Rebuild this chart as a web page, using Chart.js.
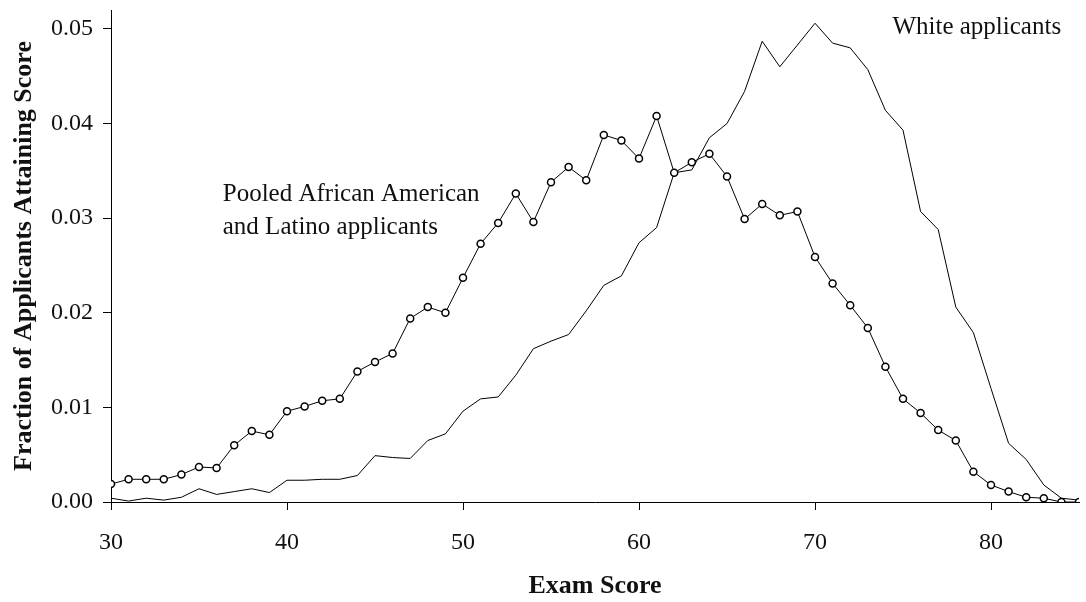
<!DOCTYPE html>
<html>
<head>
<meta charset="utf-8">
<script src="https://cdn.jsdelivr.net/npm/chart.js@4"></script>
<style>
  html, body { margin: 0; padding: 0; background: #fff; }
  #wrap { width: 1086px; height: 602px; }
</style>
</head>
<body>
<div id="wrap"><canvas id="grafico"></canvas></div>
<script>
// exam scores 30..85
const scores = [30,31,32,33,34,35,36,37,38,39,40,41,42,43,44,45,46,47,48,49,50,51,52,53,54,55,56,57,
  58,59,60,61,62,63,64,65,66,67,68,69,70,71,72,73,74,75,76,77,78,79,80,81,82,83,84,85];

const pooled = [0.0019,0.0024,0.0024,0.0024,0.0029,0.0037,0.0036,0.0060,0.0075,0.0071,
  0.0096,0.0101,0.0107,0.0109,0.0138,0.0148,0.0157,0.0194,0.0206,0.0200,
  0.0237,0.0273,0.0295,0.0326,0.0296,0.0338,0.0354,0.0340,0.0388,0.0382,
  0.0363,0.0408,0.0348,0.0359,0.0368,0.0344,0.0299,0.0315,0.0303,0.0307,
  0.0259,0.0231,0.0208,0.0184,0.0143,0.0109,0.0094,0.0076,0.0065,0.0032,
  0.0018,0.0011,0.0005,0.0004,0.0000,0.0000];

const white = [0.0004,0.0001,0.0004,0.0002,0.0005,0.0014,0.0008,0.0011,0.0014,0.0010,
  0.0023,0.0023,0.0024,0.0024,0.0028,0.0049,0.0047,0.0046,0.0065,0.0072,
  0.0096,0.0109,0.0111,0.0134,0.0162,0.0170,0.0177,0.0202,0.0229,0.0239,
  0.0274,0.0290,0.0348,0.0351,0.0385,0.0400,0.0434,0.0487,0.0460,0.0483,
  0.0506,0.0485,0.0480,0.0457,0.0414,0.0393,0.0307,0.0288,0.0206,0.0179,
  0.0120,0.0062,0.0045,0.0018,0.0004,0.0002];

const xTicks = [30,40,50,60,70,80];
const yTicks = [0,0.01,0.02,0.03,0.04,0.05];

// text labels placed in data units
const etiquetas = [
  { text: "White applicants", x: 74.4, y: 0.0495 },
  { text: "Pooled African American", x: 36.35, y: 0.0318 },
  { text: "and Latino applicants", x: 36.35, y: 0.0283 }
];

const serif = "'Liberation Serif', 'Times New Roman', serif";

const pontos = (vals) => scores.map((s, i) => ({ x: s, y: vals[i] }));

const textoPlugin = {
  id: "textos",
  afterDatasetsDraw(chart) {
    const { ctx, scales } = chart;
    ctx.save();
    ctx.fillStyle = "#111";
    ctx.font = "25px " + serif;
    ctx.textAlign = "left";
    ctx.textBaseline = "alphabetic";
    etiquetas.forEach(e => {
      ctx.fillText(e.text, scales.x.getPixelForValue(e.x), scales.y.getPixelForValue(e.y));
    });
    ctx.restore();
  }
};

new Chart(document.getElementById("grafico"), {
  type: "line",
  data: {
    datasets: [
      {
        label: "Pooled African American and Latino applicants",
        data: pontos(pooled),
        borderColor: "#000",
        borderWidth: 1,
        pointRadius: 3.5,
        pointBorderWidth: 1.5,
        pointBackgroundColor: "#fff",
        pointBorderColor: "#000",
        tension: 0
      },
      {
        label: "White applicants",
        data: pontos(white),
        borderColor: "#000",
        borderWidth: 1,
        pointRadius: 0,
        tension: 0
      }
    ]
  },
  options: {
    responsive: true,
    maintainAspectRatio: false,
    animation: false,
    layout: { padding: { top: 0, right: 7, left: 0, bottom: 0 } },
    plugins: { legend: { display: false }, tooltip: { enabled: false } },
    scales: {
      x: {
        type: "linear",
        min: 30,
        max: 85,
        afterFit(scale) { scale.height = 100; },
        afterBuildTicks(scale) { scale.ticks = xTicks.map(v => ({ value: v })); },
        border: { display: true, color: "#000", width: 1 },
        grid: { drawOnChartArea: false, drawTicks: true, tickLength: 8, color: "#000" },
        ticks: { color: "#111", padding: 18, font: { family: serif, size: 24 } },
        title: {
          display: true,
          text: "Exam Score",
          color: "#111",
          padding: { top: 0, bottom: 0 },
          font: { family: serif, size: 26, weight: "bold" }
        }
      },
      y: {
        min: 0,
        max: 0.052,
        afterFit(scale) {
          scale.width = 111;
          scale.paddingTop = 10;
          scale.paddingBottom = 0;
        },
        afterBuildTicks(scale) { scale.ticks = yTicks.map(v => ({ value: v })); },
        border: { display: true, color: "#000", width: 1 },
        grid: { drawOnChartArea: false, drawTicks: true, tickLength: 8, color: "#000" },
        ticks: {
          color: "#111",
          padding: 10,
          font: { family: serif, size: 24 },
          callback: v => v.toFixed(2)
        },
        title: {
          display: true,
          text: "Fraction of Applicants Attaining Score",
          color: "#111",
          padding: { top: 9, bottom: 0 },
          font: { family: serif, size: 26, weight: "bold" }
        }
      }
    }
  },
  plugins: [textoPlugin]
});
</script>
</body>
</html>
